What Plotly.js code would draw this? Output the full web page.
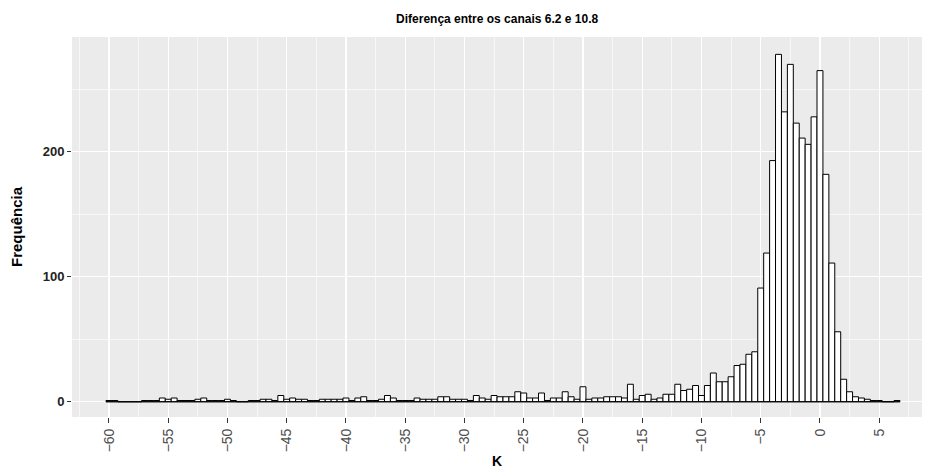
<!DOCTYPE html>
<html>
<head>
<meta charset="utf-8">
<script src="https://cdn.plot.ly/plotly-3.0.1.min.js"></script>
<style>html,body{margin:0;padding:0;background:#fff}#chart{width:938px;height:469px}</style>
</head>
<body>
<div id="chart"></div>
<script>
// Bin centres (K), bin width 0.5
const binStart = -60;
const binWidth = 0.5;
// Counts per bin, from -60 to 6.5
const counts = [
  1, 1, 0, 0, 0, 0, 1, 1, 1, 3,      // -60 .. -55.5
  2, 3, 1, 1, 1, 2, 3, 1, 1, 1,      // -55 .. -50.5
  2, 1, 0, 0, 1, 1, 2, 2, 1, 5,      // -50 .. -45.5
  2, 3, 2, 2, 1, 1, 2, 2, 2, 2,      // -45 .. -40.5
  3, 1, 3, 4, 1, 1, 2, 5, 3, 1,      // -40 .. -35.5
  1, 1, 3, 2, 2, 2, 4, 4, 2, 2,      // -35 .. -30.5
  2, 1, 5, 3, 2, 5, 4, 4, 4, 8,      // -30 .. -25.5
  7, 3, 3, 7, 1, 3, 3, 8, 4, 2,      // -25 .. -20.5
  12, 2, 3, 3, 4, 4, 4, 3, 14, 2,    // -20 .. -15.5
  5, 6, 2, 3, 6, 6, 14, 9, 10, 13,   // -15 .. -10.5
  5, 13, 23, 16, 16, 20, 29, 30, 38, 40,        // -10 .. -5.5
  91, 119, 193, 278, 232, 270, 223, 211, 206, 228, // -5 .. -0.5
  265, 182, 111, 56, 18, 8, 4, 3, 2, 1,          // 0 .. 4.5
  1, 0, 0, 1                                      // 5 .. 6.5
];
const centers = counts.map((_, i) => binStart + i * binWidth);

const titleText = 'Diferença entre os canais 6.2 e 10.8';
const xTitle = 'K';
const yTitle = 'Frequência';

const font = 'Liberation Sans, Arial, Helvetica, sans-serif';

const baseline = {
  type: 'scatter', mode: 'lines',
  x: [centers[0] - binWidth / 2, centers[centers.length - 1] + binWidth / 2],
  y: [0, 0],
  line: {color: '#000', width: 1},
  hoverinfo: 'skip', showlegend: false
};
const bars = {
  type: 'bar', x: centers, y: counts, width: binWidth,
  marker: {color: '#FFFFFF', line: {color: '#000000', width: 1}},
  showlegend: false
};

const layout = {
  width: 938, height: 469,
  margin: {l: 72, r: 16, t: 37, b: 52},
  paper_bgcolor: '#FFFFFF', plot_bgcolor: '#EBEBEB',
  bargap: 0,
  font: {family: font, size: 12, color: '#333333'},
  title: {text: titleText, x: 0.53, xanchor: 'center', y: 0.96, yanchor: 'middle',
          font: {family: font, size: 12, weight: 'bold', color: '#000'}},
  xaxis: {
    range: [-63.12, 8.61], tick0: 0, dtick: 5, tickangle: -90,
    showgrid: true, gridcolor: '#FFFFFF', gridwidth: 1.3,
    minor: {dtick: 2.5, tick0: 0, showgrid: true, gridcolor: '#FFFFFF', gridwidth: 0.6, ticklen: 0},
    zeroline: false, ticks: 'outside', ticklen: 5, tickcolor: '#333333', tickwidth: 1,
    tickfont: {family: font, size: 14, color: '#4D4D4D'},
    title: {text: xTitle, standoff: 4, font: {family: font, size: 14, weight: 'bold', color: '#000'}}
  },
  yaxis: {
    range: [-12.2, 291.9], tick0: 0, dtick: 100,
    showgrid: true, gridcolor: '#FFFFFF', gridwidth: 1.3,
    minor: {dtick: 50, tick0: 0, showgrid: true, gridcolor: '#FFFFFF', gridwidth: 0.6, ticklen: 0},
    zeroline: false, ticks: 'outside', ticklen: 4, tickcolor: '#333333', tickwidth: 1,
    tickfont: {family: font, size: 13, weight: 'bold', color: '#222222'},
    title: {text: yTitle, standoff: 16, font: {family: font, size: 15, weight: 'bold', color: '#000'}}
  }
};

Plotly.newPlot('chart', [baseline, bars], layout, {displayModeBar: false, staticPlot: true});
</script>
</body>
</html>
